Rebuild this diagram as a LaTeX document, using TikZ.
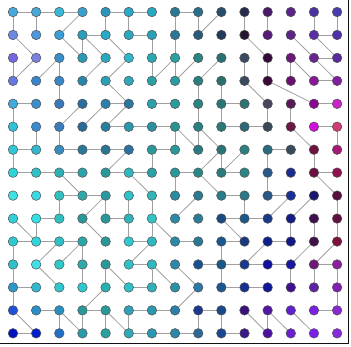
\documentclass[tikz,border=0pt]{standalone}
\usepackage{tikz}
\definecolor{cLink}{HTML}{A0A0A0}
\definecolor{cRim}{HTML}{505050}
\definecolor{cFrame}{HTML}{111111}

\begin{document}
\begin{tikzpicture}[
  x=23.15pt, y=-22.95pt,
  dot/.style={circle, draw=cRim, line width=0.5pt, fill=#1, inner sep=0pt, minimum size=9.6pt},
  link/.style={draw=cLink, line width=0.8pt},
]
\useasboundingbox (-13pt,12pt) rectangle (338pt,-334pt);

% ---- grid of dots, one colour list per row ----
\foreach \rowcols [count=\ry from 0] in {
  {4BA8DC,45A8D8,3BB8D8,3AA0CC,2A94BC,2AA8C8,2AA8C0,2A7896,2A6E8E,284C6C,282C4C,4A1A6A,5A2488,4A30A0,4A3CAC},
  {6C88E0,4C98E0,3A9ED8,2A9CBC,2AA8C8,2AA8C0,2AA0B4,2A7898,2A5A7A,243A5C,281630,561C78,5A2488,5A2CA8,5030A8},
  {7468E0,7880E0,3A8EC8,2A9AB4,2AA8C0,30B4CC,2AA8B0,2AA0A0,2A8484,2A7070,3A4A64,320A38,6A1878,6A2490,5A2A9C},
  {6878E0,3A84CC,3A84C8,2A86A8,2AA0B4,30A8B8,2AA0A4,2A9CA0,2A7E80,2A7070,384A60,3A0A38,6A1070,8A1898,8020A0},
  {44A8DC,3A8ECC,3A78B8,2A6E9E,2A80A8,2A78A0,2AA0A8,2A9C9C,2A8484,2A7676,2A7474,4A4660,5A1858,8A0890,C824C8},
  {30C0D8,3A8CD0,3A7CBC,2A6A98,2A7E9C,2A98AC,2A90A0,2A9494,2A8080,2A7878,2A6A78,3A4858,6A1844,D010D8,D03C78},
  {30C8D8,30B8CC,3A8CBC,2A7898,2A7494,2A70A0,2A9898,2A9898,2A7A80,2A7478,2A8080,2A6A7A,3A4C5C,701040,A81878},
  {30D4D8,30C0C8,30B0B4,2AA4A8,2A9898,30B8C0,2AA0A8,2A9898,2A8888,2A7A80,2A8686,2A5888,1A2C90,6A1040,901050},
  {40E0E4,3AD8E0,30C0C0,30A8A8,2A98A0,30C0C8,30B4B8,2A8CA0,2A7A90,2A7C88,2A7888,2A5888,1A3098,181870,581040},
  {30D0D8,30E0E4,30C0C0,2A9898,2A9898,30B4BC,30C4C4,2A88A8,2A7C98,1A4A80,1A5888,1A3A88,141C88,401050,601040},
  {30C8D0,30D4DC,30C0C8,2AA8A8,2A9898,30C8D0,30B8C0,2A88A8,2A7898,1A5890,1A3A80,10208A,101888,40104A,801040},
  {30C0C8,40E0E8,30C8C8,30A8A8,2A9898,30C0C8,30B8C0,2A88A8,1A5090,1A5888,1A3890,1010A0,1818A0,701878,8A20A0},
  {2A98C8,30B8D0,30C8D0,30C8D0,2AB0B0,30C0C8,30B0B8,2A90A8,2A78A8,1A5890,1A3090,101898,401090,6020A8,8020B0},
  {2050D8,2890C8,2890C0,2A9898,2A9898,30A0B8,2A98B0,2A80A8,1A3890,1A4888,3A1080,5018A0,6020D0,7A20E0,8A28D0},
  {0010C0,0020D0,2070C8,2A9AAA,2AA0A0,30A8B8,2A98B0,2A88A8,2A6898,1A4890,3A1888,4A10A0,6A20D0,7A20E8,8A28E0}%
}{
  \foreach \hex [count=\cx from 0] in \rowcols {
    \definecolor{dotfill}{HTML}{\hex}
    \node[dot=dotfill] (n\cx-\ry) at (\cx,\ry) {};
  }
}

% ---- links ----
\foreach \a/\b in {
  % top left
  0-0/1-0, 1-0/2-0, 2-0/3-0, 0-0/0-1, 1-0/1-1, 4-0/4-1, 3-0/2-1, 3-1/4-1, 0-1/1-2, 2-1/3-2,
  3-1/3-2, 3-1/4-2, 4-1/5-2, 0-2/0-3, 1-2/0-3, 2-2/2-3, 2-3/2-4, 2-2/1-3, 4-2/3-3, 5-2/4-3,
  4-3/5-4, 0-4/1-4, 4-4/5-4, 4-4/3-5, 3-4/2-5, 5-4/4-5,
  % top middle
  4-0/5-0, 5-0/6-0, 7-0/8-0, 5-0/5-1, 7-0/7-1, 8-0/8-1, 9-0/8-1, 5-1/6-1, 6-1/6-2, 6-2/6-3,
  7-1/7-2, 7-2/7-3, 7-2/6-3, 8-2/7-3, 9-2/8-3, 6-4/7-4, 8-3/8-4, 8-4/8-5, 9-3/9-4, 9-4/9-5, 9-4/10-4,
  % top right
  10-0/10-1, 11-0/11-1, 13-0/13-1, 14-0/14-1, 13-1/14-1, 10-1/11-2, 12-1/13-2, 13-1/14-2, 13-2/14-2,
  12-2/13-3, 13-2/14-3, 13-3/14-3, 10-2/10-3, 11-2/11-3, 12-2/12-3, 10-3/11-4, 11-3/13-4, 13-4/14-4,
  % middle left
  0-4/0-5, 0-5/0-6, 0-6/0-7, 1-5/1-6, 2-5/2-6, 0-6/1-6, 2-6/3-6, 3-6/4-6, 4-6/5-6, 5-6/4-7,
  0-7/1-7, 1-7/2-7, 2-7/3-7, 2-7/3-8, 2-8/3-8, 3-8/4-8, 2-8/2-9, 4-8/3-9, 4-8/4-9, 1-9/2-9, 4-9/5-9,
  % centre
  4-5/5-5, 5-5/6-5, 6-5/7-5, 7-5/7-6, 7-5/8-6, 8-5/8-6, 8-5/9-6, 6-6/7-6, 6-6/6-7, 9-6/9-7,
  10-6/9-7, 9-6/8-7, 4-7/5-7, 5-7/6-7, 7-7/8-7, 5-7/6-8, 7-7/7-8, 8-7/9-8, 8-8/7-9, 5-8/5-9,
  6-8/6-9, 9-7/10-7,
  % middle right
  9-5/10-5, 10-5/11-5, 11-4/11-5, 12-4/12-5, 13-5/14-5, 12-5/13-6, 14-5/14-6, 11-6/12-6, 11-6/11-7,
  11-7/11-8, 13-6/13-7, 13-7/14-7, 13-7/14-8, 9-8/10-8, 11-8/12-8, 10-8/10-9, 12-8/11-9, 13-8/12-9,
  14-8/14-9,
  % bottom left
  0-9/1-10, 1-9/1-10, 3-9/4-10, 0-10/1-10, 1-10/2-10, 2-10/3-10, 0-10/0-11, 0-11/0-12, 0-12/0-13,
  0-12/1-12, 2-10/1-11, 3-10/2-11, 3-10/3-11, 3-11/3-12, 1-11/2-12, 4-11/5-12, 4-11/4-12, 4-12/3-13,
  1-13/2-13, 3-13/4-13, 2-13/2-14, 2-13/3-14, 3-13/3-14, 0-13/1-14, 4-13/4-14, 0-14/1-14, 4-13/5-14,
  % bottom middle
  5-9/5-10, 6-9/6-10, 6-9/7-10, 5-10/6-10, 7-10/8-10, 6-10/5-11, 5-11/6-11, 8-11/9-11, 6-11/7-12,
  6-11/6-12, 7-11/8-12, 9-11/9-12, 5-12/6-12, 8-12/7-13, 5-13/6-13, 6-13/7-13, 8-13/9-13, 5-13/5-14,
  8-13/8-14, 5-14/6-14, 6-14/7-14, 7-14/8-14,
  % bottom right
  9-9/10-9, 10-9/11-9, 12-9/12-10, 13-9/13-10, 14-9/14-10, 9-9/10-10, 9-10/10-10, 11-10/12-10,
  9-10/9-11, 11-10/10-11, 13-10/12-11, 14-10/13-11, 9-11/10-11, 10-11/11-11, 11-11/12-11,
  13-11/14-11, 12-11/12-12, 13-11/13-12, 14-11/14-12, 9-12/10-12, 10-12/11-12, 14-12/14-13,
  13-13/14-13, 9-13/9-14, 10-13/11-14, 11-13/11-14, 11-13/12-14, 12-13/13-14, 9-14/10-14%
} \draw[link] (n\a) -- (n\b);

% ---- frame edges ----
\draw[cFrame, line width=1.4pt] (-13pt,-331.5pt) -- (335.5pt,-331.5pt) -- (335.5pt,12pt);

\end{tikzpicture}
\end{document}
